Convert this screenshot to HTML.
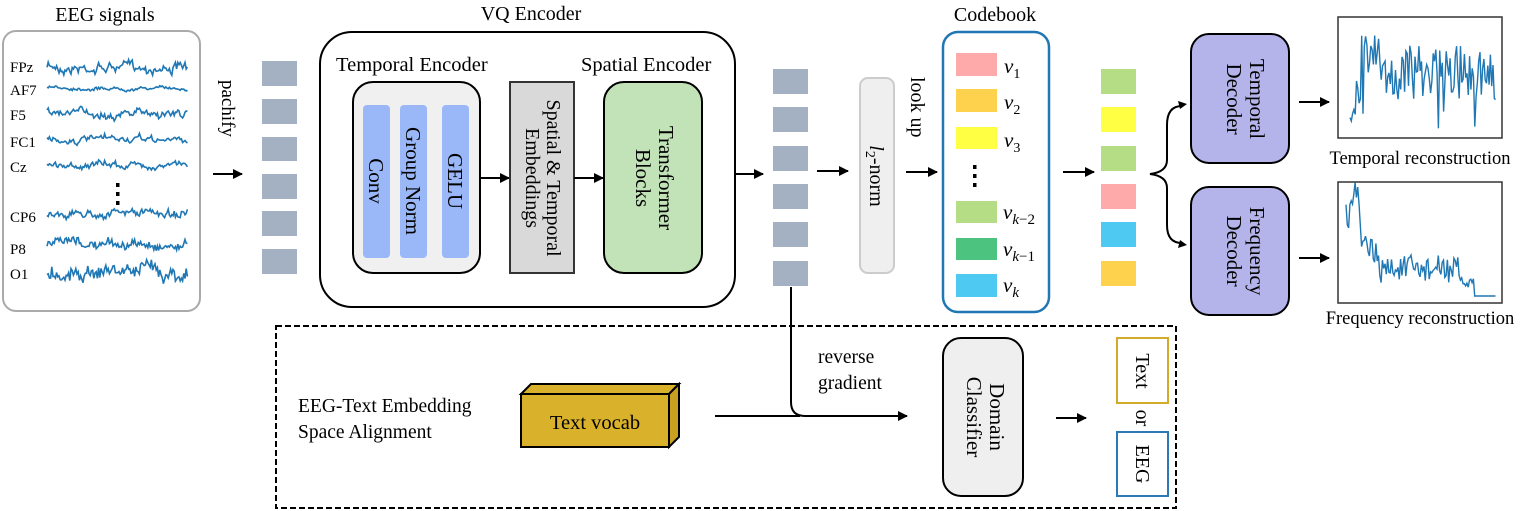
<!DOCTYPE html>
<html><head><meta charset="utf-8"><style>
html,body{margin:0;padding:0;background:#fff;}
svg{display:block;font-family:"Liberation Serif",serif;}
</style></head><body>
<svg id="s" width="1522" height="511" viewBox="0 0 1522 511" xmlns="http://www.w3.org/2000/svg">
<defs>
<marker id="ah" markerWidth="10" markerHeight="10" refX="9" refY="5" orient="auto" markerUnits="userSpaceOnUse"><path d="M0,0 L10,5 L0,10 z" fill="#000"/></marker>
</defs>
<g font-size="20" fill="#000">
<text x="105" y="21" text-anchor="middle">EEG signals</text>
<text x="531" y="20" text-anchor="middle">VQ Encoder</text>
<text x="995" y="21" text-anchor="middle">Codebook</text>
</g>
<rect x="3" y="31" width="197" height="280" rx="13" fill="#fff" stroke="#aaa" stroke-width="2"/>
<g font-size="15" fill="#000">
<text x="10" y="72">FPz</text><text x="10" y="95">AF7</text><text x="10" y="120">F5</text>
<text x="10" y="147">FC1</text><text x="10" y="172">Cz</text><text x="10" y="222">CP6</text>
<text x="10" y="254">P8</text><text x="10" y="279">O1</text>
</g>
<g fill="#000"><rect x="116" y="183" width="3.5" height="4"/><rect x="116" y="192" width="3.5" height="4"/><rect x="116" y="201" width="3.5" height="4"/></g>
<g id="waves" fill="none" stroke="#1f77b4" stroke-width="1.6"></g>
<text font-size="19" transform="translate(222,80) rotate(90)">pachify</text>
<line x1="213" y1="174" x2="242" y2="174" stroke="#000" stroke-width="2" marker-end="url(#ah)"/>
<g fill="#a3b1c2">
<rect x="262" y="61" width="35" height="25"/><rect x="262" y="99" width="35" height="25"/><rect x="262" y="137" width="35" height="24"/>
<rect x="262" y="174" width="35" height="25"/><rect x="262" y="211" width="35" height="25"/><rect x="262" y="249" width="35" height="25"/>
</g>
<rect x="320" y="32" width="415" height="275" rx="32" fill="#fff" stroke="#000" stroke-width="2"/>
<text x="336" y="71" font-size="20.5">Temporal Encoder</text>
<text x="581" y="71" font-size="20.5">Spatial Encoder</text>
<rect x="353" y="82" width="127" height="191" rx="20" fill="#f0f0f0" stroke="#000" stroke-width="2"/>
<g fill="#9ab8f8">
<rect x="363" y="105" width="27" height="153" rx="4"/><rect x="400" y="105" width="27" height="153" rx="4"/><rect x="442" y="105" width="27" height="153" rx="4"/>
</g>
<g font-size="21">
<text transform="translate(369,181) rotate(90)" text-anchor="middle">Conv</text>
<text transform="translate(406,181) rotate(90)" text-anchor="middle">Group Norm</text>
<text transform="translate(448,181) rotate(90)" text-anchor="middle">GELU</text>
</g>
<line x1="480" y1="178" x2="509" y2="178" stroke="#000" stroke-width="2" marker-end="url(#ah)"/>
<rect x="510" y="82" width="64" height="191" fill="#d9d9d9" stroke="#333" stroke-width="2"/>
<g font-size="20">
<text transform="translate(547,178) rotate(90)" text-anchor="middle">Spatial &amp; Temporal</text>
<text transform="translate(526,178) rotate(90)" text-anchor="middle">Embeddings</text>
</g>
<line x1="574" y1="178" x2="603" y2="178" stroke="#000" stroke-width="2" marker-end="url(#ah)"/>
<rect x="604" y="82" width="98" height="191" rx="20" fill="#c2e2b7" stroke="#000" stroke-width="2"/>
<g font-size="21">
<text transform="translate(659,178) rotate(90)" text-anchor="middle">Transformer</text>
<text transform="translate(636,178) rotate(90)" text-anchor="middle">Blocks</text>
</g>
<line x1="735" y1="174" x2="763" y2="174" stroke="#000" stroke-width="2" marker-end="url(#ah)"/>
<g fill="#a3b1c2">
<rect x="773" y="69" width="35" height="25"/><rect x="773" y="107" width="35" height="25"/><rect x="773" y="146" width="35" height="25"/>
<rect x="773" y="184" width="35" height="25"/><rect x="773" y="222" width="35" height="25"/><rect x="773" y="261" width="35" height="25"/>
</g>
<line x1="817" y1="171" x2="848" y2="171" stroke="#000" stroke-width="2" marker-end="url(#ah)"/>
<rect x="860" y="78" width="34" height="195" rx="8" fill="#efefef" stroke="#ccc" stroke-width="2"/>
<text transform="translate(870,176) rotate(90)" text-anchor="middle" font-size="20"><tspan font-style="italic">l</tspan><tspan font-size="14" dy="4">2</tspan><tspan dy="-4">-norm</tspan></text>
<text transform="translate(911,77) rotate(90)" font-size="20">look up</text>
<line x1="906" y1="172" x2="937" y2="172" stroke="#000" stroke-width="2" marker-end="url(#ah)"/>
<rect x="943" y="32" width="106" height="280" rx="15" fill="#fff" stroke="#1f77b4" stroke-width="2.5"/>
<rect x="956" y="53" width="41" height="23" fill="#ffaaaa"/>
<rect x="956" y="89" width="41" height="23" fill="#ffd24d"/>
<rect x="956" y="127" width="41" height="22" fill="#ffff44"/>
<rect x="956" y="201" width="41" height="22" fill="#b5dd85"/>
<rect x="956" y="238" width="41" height="22" fill="#4cc480"/>
<rect x="956" y="274" width="41" height="23" fill="#4dc9f2"/>
<g fill="#000"><rect x="973" y="165" width="3.5" height="4"/><rect x="973" y="174" width="3.5" height="4"/><rect x="973" y="183" width="3.5" height="4"/></g>
<g font-size="21" font-style="italic">
<text x="1004" y="73">v<tspan font-size="14" dy="5" font-style="normal">1</tspan></text>
<text x="1004" y="109">v<tspan font-size="14" dy="5" font-style="normal">2</tspan></text>
<text x="1004" y="147">v<tspan font-size="14" dy="5" font-style="normal">3</tspan></text>
<text x="1003" y="219">v<tspan font-size="15" dy="5">k</tspan><tspan font-size="15" font-style="normal">−2</tspan></text>
<text x="1003" y="256">v<tspan font-size="15" dy="5">k</tspan><tspan font-size="15" font-style="normal">−1</tspan></text>
<text x="1003" y="292">v<tspan font-size="15" dy="5">k</tspan></text>
</g>
<line x1="1063" y1="172" x2="1094" y2="172" stroke="#000" stroke-width="2" marker-end="url(#ah)"/>
<rect x="1101" y="69" width="35" height="25" fill="#b5dd85"/>
<rect x="1101" y="107" width="35" height="25" fill="#ffff44"/>
<rect x="1101" y="146" width="35" height="25" fill="#b5dd85"/>
<rect x="1101" y="184" width="35" height="25" fill="#ffaaaa"/>
<rect x="1101" y="222" width="35" height="25" fill="#4dc9f2"/>
<rect x="1101" y="261" width="35" height="25" fill="#ffd24d"/>
<path d="M1182,106 Q1167,106 1167,125 L1167,160 Q1167,172 1150,174 Q1167,176 1167,188 L1167,225 Q1167,243 1182,243" fill="none" stroke="#000" stroke-width="2"/>
<path d="M1187,104 l-9,-3 l2,8 z M1187,245 l-9,3 l2,-8 z" fill="#000"/>
<rect x="1191" y="34" width="98" height="129" rx="18" fill="#b4b4ea" stroke="#000" stroke-width="2"/>
<rect x="1191" y="187" width="98" height="128" rx="18" fill="#b4b4ea" stroke="#000" stroke-width="2"/>
<g font-size="21">
<text transform="translate(1250,99) rotate(90)" text-anchor="middle">Temporal</text>
<text transform="translate(1227,99) rotate(90)" text-anchor="middle">Decoder</text>
<text transform="translate(1250,251) rotate(90)" text-anchor="middle">Frequency</text>
<text transform="translate(1227,251) rotate(90)" text-anchor="middle">Decoder</text>
</g>
<line x1="1299" y1="102" x2="1329" y2="102" stroke="#000" stroke-width="2" marker-end="url(#ah)"/>
<line x1="1299" y1="258" x2="1329" y2="258" stroke="#000" stroke-width="2" marker-end="url(#ah)"/>
<rect x="1338" y="17" width="164" height="121" fill="#fff" stroke="#333" stroke-width="1.5"/>
<rect x="1338" y="182" width="164" height="121" fill="#fff" stroke="#333" stroke-width="1.5"/>
<g id="plots" fill="none" stroke="#1f77b4" stroke-width="1.4"></g>
<text x="1420" y="164" font-size="18.5" text-anchor="middle">Temporal reconstruction</text>
<text x="1420" y="324" font-size="18.5" text-anchor="middle">Frequency reconstruction</text>
<rect x="276" y="326" width="900" height="182" fill="none" stroke="#000" stroke-width="2" stroke-dasharray="6,3"/>
<path d="M791,287 L791,402 Q791,416 805,416 L907,416" fill="none" stroke="#000" stroke-width="2" marker-end="url(#ah)"/>
<line x1="715" y1="416" x2="800" y2="416" stroke="#000" stroke-width="2"/>
<text x="818" y="363" font-size="19.5">reverse</text>
<text x="818" y="389" font-size="19.5">gradient</text>
<text x="298" y="412" font-size="19.5">EEG-Text Embedding</text>
<text x="298" y="438" font-size="19.5">Space Alignment</text>
<path d="M521,394 L531,384 L679,384 L669,394 z" fill="#d9b12a" stroke="#000" stroke-width="2"/>
<path d="M669,394 L679,384 L679,437 L669,447 z" fill="#c9a020" stroke="#000" stroke-width="2"/>
<rect x="521" y="394" width="148" height="53" fill="#d9b12a" stroke="#000" stroke-width="2"/>
<text x="595" y="429" font-size="20.5" text-anchor="middle">Text vocab</text>
<rect x="943" y="338" width="80" height="158" rx="18" fill="#efefef" stroke="#000" stroke-width="2"/>
<g font-size="21">
<text transform="translate(990,417) rotate(90)" text-anchor="middle">Domain</text>
<text transform="translate(967,417) rotate(90)" text-anchor="middle">Classifier</text>
</g>
<line x1="1056" y1="418" x2="1086" y2="418" stroke="#000" stroke-width="2" marker-end="url(#ah)"/>
<rect x="1117" y="338" width="51" height="65" fill="#fff" stroke="#d4aa2a" stroke-width="2"/>
<rect x="1117" y="432" width="51" height="64" fill="#fff" stroke="#2a7ab8" stroke-width="2"/>
<g font-size="20">
<text transform="translate(1136,371) rotate(90)" text-anchor="middle">Text</text>
<text transform="translate(1136,418) rotate(90)" text-anchor="middle">or</text>
<text transform="translate(1136,464) rotate(90)" text-anchor="middle">EEG</text>
</g>
</svg>
<script>
(function(){
var seed=7;function r(){seed=(seed*16807)%2147483647;return seed/2147483647;}
var ns="http://www.w3.org/2000/svg";
var W=document.getElementById("waves");
var ch=[[67,9],[88,3],[113,7],[140,6],[165,6],[213,7],[245,9],[270,14]];
ch.forEach(function(c){var d="",y=c[0],a=c[1],lo=0;
for(var x=47;x<=188;x+=1.2){lo+=(r()-0.5)*a*0.6;lo*=0.88;var v=y+lo+(r()-0.5)*a*0.7;d+=(d?"L":"M")+x.toFixed(1)+","+v.toFixed(1);}
var p=document.createElementNS(ns,"path");p.setAttribute("d",d);W.appendChild(p);});
var P=document.getElementById("plots");
function mk(pts){var p=document.createElementNS(ns,"path");p.setAttribute("d","M"+pts.join("L"));P.appendChild(p);}
var a=[],x;
for(x=1350;x<=1496;x+=1.3){var t=(x-1350)/146,v;
if(t<0.08)v=80+r()*45;else if(t<0.2)v=30+r()*45;else v=45+r()*55; if(r()<0.05)v=110+r()*20;
a.push(x.toFixed(1)+","+v.toFixed(1));}
mk(a);var b=[];
for(x=1346;x<=1496;x+=1.3){var t=(x-1346)/150,v;
if(t<0.1)v=200+r()*30-(t>0.03&&t<0.08?20:0);
else if(t<0.2)v=235+r()*30;else if(t<0.75)v=255+r()*28;else if(t<0.85)v=275+r()*15;else v=296;
b.push(x.toFixed(1)+","+v.toFixed(1));}
mk(b);
})();
</script>
</body></html>
